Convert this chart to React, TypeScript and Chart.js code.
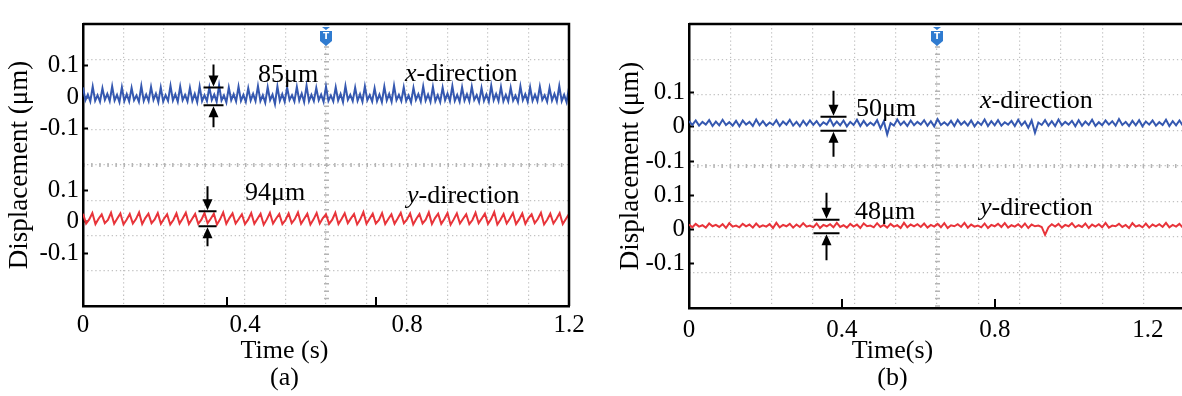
import React, { useEffect, useRef } from 'react';
import { Chart, registerables } from 'chart.js';

Chart.register(...registerables);

const SERIF = '"Liberation Serif", "Times New Roman", Times, serif';
const BLUE = '#3558b0';
const RED = '#e8343a';
const GRID = '#c2c2c2';

// ---- signal values, in nm (plotted in μm) ----
// panel (a), x-direction
const A_X_DIR_NM = [
  30, -10, 8, -14, 33, -12, 6, -15, 28, -9, 10, -13, 34, -11, 7, -16, 31, -13, 9, -14,
  29, -10, 5, -15, 35, -12, 8, -13, 32, -9, 11, -16, 30, -14, 6, -12, 36, -11, 9, -15,
  33, -10, 7, -14, 29, -12, 10, -16, 34, -13, 6, -13, 31, -9, 8, -15, 37, -11, 5, -17,
  30, -10, 9, -14, 33, -12, 7, -15, 28, -11, 10, -13, 35, -13, 6, -18, 31, -10, 8, -22,
  34, -12, 9, -15, 30, -9, 6, -14, 32, -11, 11, -16, 36, -13, 7, -13, 29, -10, 8, -15,
  33, -12, 5, -14, 31, -11, 10, -16, 35, -9, 7, -13, 30, -12, 9, -15, 34, -10, 6, -14,
  28, -13, 8, -16, 33, -11, 10, -15, 36, -10, 7, -13, 31, -12, 5, -17, 29, -9, 9, -14,
  34, -11, 8, -15, 32, -13, 6, -16, 30, -10, 11, -13, 35, -12, 7, -15, 31, -11, 9, -14,
  33, -9, 6, -16, 29, -12, 8, -15, 36, -10, 10, -13, 32, -13, 7, -14, 30, -11, 5, -16,
  34, -10, 9, -15, 31, -12, 8, -13, 33, -9, 6, -15, 29, -11, 10, -14, 35, -13, 7, -16,
  30,
];
// panel (a), y-direction
const A_Y_DIR_NM = [
  26, -5, 8, 28, -7, 10, 24, -4, 6, 29, -6, 11, 27, -8, 7, 25, -5, 9, 30, -7, 12, 26, -4, 8, 28, -6, 10, 24, -8, 6,
  27, -5, 11, 29, -7, 9, 25, -6, 7, 28, -4, 10, 26, -8, 8, 30, -6, 12, 27, -5, 9, 24, -7, 7, 28, -6, 10, 26, -9, 8,
  29, -5, 11, 25, -7, 6, 27, -4, 9, 30, -6, 10, 26, -8, 8, 28, -5, 12, 24, -6, 7, 29, -7, 9, 27, -4, 11, 25, -8, 8,
  31, -6, 10, 26, -5, 6, 28, -7, 9, 24, -6, 11, 29, -4, 8, 27, -8, 10, 25, -5, 7, 30, -7, 12, 26, -6, 9, 28, -9, 8,
  27, -5, 10, 24, -7, 6, 29, -4, 11, 26, -6, 9, 31, -8, 7, 25, -5, 10, 28, -7, 8, 27, -6, 12, 24, -4, 9, 29, -8, 7,
  26, -5, 10, 28, -7, 9,
  25,
];
// panel (b), x-direction
const B_X_DIR_NM = [
  16, 5, 18, 3, 14, 6, 19, 2, 15, 4,
  20, 5, 13, 3, 17, 1, 18, 6, 14, 2,
  21, 4, 16, 3, 12, 5, 19, 2, 15, 6,
  20, 3, 14, 1, 17, 4, 18, 5, 16, 2,
  13, 6, 22, 3, 15, 4, 18, 1, 14, 5,
  20, 2, 17, 3, 12, 4, 19, -5, 16, -23,
  10, 3, 21, 5, 15, 2, 18, 4, 14, 6,
  19, 3, 16, 1, 22, 5, 13, 4, 17, 2,
  20, 6, 15, 3, 18, 1, 14, 5, 21, 2,
  16, 4, 19, 3, 13, 6, 17, 2, 20, 4,
  15, -3, 18, -18, 12, 5, 19, 3, 16, 2,
  21, 4, 14, 6, 17, 1, 19, 3, 15, 5,
  20, 2, 13, 4, 18, 6, 16, 3, 22, 5,
  14, 2, 17, 4, 19, 1, 15, 6, 18, 3,
  13, 5, 20, 2, 16, 4, 18, 3, 15,
];
// panel (b), y-direction
const B_Y_DIR_NM = [
  14, 6, 16, 8, 12, 5, 17, 9, 13, 7,
  15, 4, 18, 8, 11, 6, 16, 9, 14, 5,
  17, 7, 12, 8, 15, 4, 19, 6, 13, 9,
  16, 5, 14, 7, 18, 8, 11, 6, 17, 4,
  13, 9, 15, 6, 19, 7, 12, 5, 16, 8,
  14, 4, 17, 9, 11, 6, 18, 7, 13, 5,
  16, 8, 12, 4, 19, 6, 14, 9, 15, 7,
  17, 5, 13, 8, 16, 6, 18, 4, 12, 9,
  15, 7, 19, 5, 14, 8, 11, 6, 17, 4,
  13, 9, 16, 7, 18, 5, 12, 8, 15, 6,
  17, 4, 14, 9, 11, 7, -16, 6, 15, 8,
  16, 5, 13, 9, 18, 6, 12, 7, 17, 4,
  14, 8, 15, 6, 19, 5, 11, 9, 16, 7,
  13, 4, 18, 8, 12, 6, 17, 5, 14, 9,
  15, 7, 19, 6, 13, 8, 16, 5, 14,
];

const A_DURATION_S = 1.2;
const B_DURATION_S = 1.3;

const TIME_TICKS = [0, 0.4, 0.8, 1.2];
const TIME_TICK_LABELS = ['0', '0.4', '0.8', '1.2'];
const DISP_TICKS = [0.1, 0, -0.1];
const DISP_TICK_LABELS = ['0.1', '0', '-0.1'];

const Y_TITLE = 'Displacement (μm)';
const A_CAPTION = ['Time (s)', '(a)'];
const B_CAPTION = ['Time(s)', '(b)'];

const A_INNER_TICKS = [0.356, 0.723];
const B_INNER_TICKS = [0.4, 0.8];

const A_NOTES = [
  { t: 0.432, ch: 'upper', v: 0.068, italic: '', text: '85μm' },
  { t: 0.795, ch: 'upper', v: 0.072, italic: 'x', text: '-direction' },
  { t: 0.4, ch: 'lower', v: 0.09, italic: '', text: '94μm' },
  { t: 0.8, ch: 'lower', v: 0.082, italic: 'y', text: '-direction' },
];
const B_NOTES = [
  { t: 0.437, ch: 'upper', v: 0.051, italic: '', text: '50μm' },
  { t: 0.761, ch: 'upper', v: 0.073, italic: 'x', text: '-direction' },
  { t: 0.434, ch: 'lower', v: 0.05, italic: '', text: '48μm' },
  { t: 0.761, ch: 'lower', v: 0.061, italic: 'y', text: '-direction' },
];
const A_BRACKETS = [
  { t: 0.321, ch: 'upper', top: 0.03, bottom: -0.026 },
  { t: 0.306, ch: 'lower', top: 0.034, bottom: -0.0136 },
];
const B_BRACKETS = [
  { t: 0.376, ch: 'upper', top: 0.029, bottom: -0.012 },
  { t: 0.358, ch: 'lower', top: 0.028, bottom: -0.011 },
];

const PANELS = [
  {
    key: 'a', left: 0, width: 652,
    pad: { top: 9, right: 83, bottom: 0, left: 0 },
    yAxisWidth: 83, yTitlePad: 4, xAxisHeight: 42, xTickPad: 4,
    xMax: 1.2, yMin: -0.266, yMax: 0.626, upper: 0.395,
    xVals: A_X_DIR_NM, yVals: A_Y_DIR_NM, duration: A_DURATION_S,
    caption: A_CAPTION, innerTicks: A_INNER_TICKS, notes: A_NOTES, brackets: A_BRACKETS,
    arrowTop: [23, 25], arrowBottom: [22, 20], half: [10, 9],
  },
  {
    key: 'b', left: 600, width: 624,
    pad: { top: 8, right: 39, bottom: 0, left: 0 },
    yAxisWidth: 89, yTitlePad: 15, xAxisHeight: 40, xTickPad: 7,
    xMax: 1.297, yMin: -0.229, yMax: 0.598, upper: 0.299,
    xVals: B_X_DIR_NM, yVals: B_Y_DIR_NM, duration: B_DURATION_S,
    caption: B_CAPTION, innerTicks: B_INNER_TICKS, notes: B_NOTES, brackets: B_BRACKETS,
    arrowTop: [26, 27], arrowBottom: [26, 27], half: [13, 13],
  },
];

const decor = {
  id: 'decor',
  afterDatasetsDraw(chart: any, _a: any, o: any) {
    const { ctx, chartArea: ca, scales } = chart;
    const xs = scales.x;
    const ys = scales.y;
    const yPix = (ch: string, v: number) => ys.getPixelForValue((ch === 'upper' ? o.upper : 0) + v);
    ctx.save();
    // frame (top/right)
    ctx.strokeStyle = '#000';
    ctx.lineWidth = 2.5;
    ctx.beginPath();
    ctx.moveTo(ca.left, ca.top);
    ctx.lineTo(ca.right, ca.top);
    ctx.lineTo(ca.right, ca.bottom);
    ctx.stroke();
    // inner time tick marks
    ctx.lineWidth = 2;
    for (const t of o.innerTicks) {
      const px = Math.round(xs.getPixelForValue(t));
      ctx.beginPath();
      ctx.moveTo(px, ca.bottom);
      ctx.lineTo(px, ca.bottom - 9);
      ctx.stroke();
    }
    // trigger marker
    const tx = scales.xCenter.getPixelForValue(6);
    const ty = ca.top + 3;
    ctx.fillStyle = '#2f7bd0';
    ctx.beginPath();
    ctx.moveTo(tx - 4, ty); ctx.lineTo(tx + 4, ty); ctx.lineTo(tx, ty + 3); ctx.closePath();
    ctx.fill();
    ctx.beginPath();
    ctx.moveTo(tx - 6, ty + 4); ctx.lineTo(tx + 6, ty + 4); ctx.lineTo(tx + 6, ty + 14);
    ctx.lineTo(tx, ty + 19); ctx.lineTo(tx - 6, ty + 14); ctx.closePath();
    ctx.fill();
    ctx.fillStyle = '#fff';
    ctx.font = 'bold 9px "DejaVu Sans", sans-serif';
    ctx.textAlign = 'center';
    ctx.textBaseline = 'middle';
    ctx.fillText('T', tx, ty + 10);
    // brackets with arrows
    ctx.strokeStyle = '#000';
    ctx.fillStyle = '#000';
    ctx.lineWidth = 2;
    o.brackets.forEach((b: any, i: number) => {
      const px = Math.round(xs.getPixelForValue(b.t)) + 0.5;
      const yt = yPix(b.ch, b.top);
      const yb = yPix(b.ch, b.bottom);
      const h = o.half[i];
      ctx.beginPath();
      ctx.moveTo(px - h, yt); ctx.lineTo(px + h, yt);
      ctx.moveTo(px - h, yb); ctx.lineTo(px + h, yb);
      ctx.moveTo(px, yt - o.arrowTop[i]); ctx.lineTo(px, yt - 8);
      ctx.moveTo(px, yb + o.arrowBottom[i]); ctx.lineTo(px, yb + 8);
      ctx.stroke();
      ctx.beginPath();
      ctx.moveTo(px, yt - 1); ctx.lineTo(px - 5, yt - 12); ctx.lineTo(px + 5, yt - 12); ctx.closePath();
      ctx.moveTo(px, yb + 1); ctx.lineTo(px - 5, yb + 12); ctx.lineTo(px + 5, yb + 12); ctx.closePath();
      ctx.fill();
    });
    // notes
    ctx.textAlign = 'left';
    ctx.textBaseline = 'middle';
    for (const n of o.notes) {
      let px = xs.getPixelForValue(n.t);
      const py = yPix(n.ch, n.v);
      if (n.italic) {
        ctx.font = `italic 26px ${SERIF}`;
        ctx.fillText(n.italic, px, py);
        px += ctx.measureText(n.italic).width;
      }
      ctx.font = `26px ${SERIF}`;
      ctx.fillText(n.text, px, py);
    }
    ctx.restore();
  },
};

function buildConfig(p: any): any {
  const series = (vals: number[], off: number) =>
    vals.map((v, i) => ({ x: (i * p.duration) / (vals.length - 1), y: off + v / 1000 }));
  const hiddenGrid = (pos: string, max: number, extra: any) => ({
    type: 'linear', position: pos, min: 0, max,
    afterFit: (s: any) => { if (pos === 'bottom') s.height = 0; else s.width = 0; },
    ticks: { display: false, stepSize: 1 },
    ...extra,
  });
  return {
    type: 'line',
    data: {
      datasets: [
        { label: 'x-direction', data: series(p.xVals, p.upper), borderColor: BLUE, borderWidth: 2,
          pointRadius: 0, tension: 0, xAxisID: 'x', yAxisID: 'y' },
        { label: 'y-direction', data: series(p.yVals, 0), borderColor: RED, borderWidth: 2,
          pointRadius: 0, tension: 0, xAxisID: 'x', yAxisID: 'y' },
      ],
    },
    options: {
      responsive: false,
      animation: false,
      devicePixelRatio: 1,
      events: [],
      layout: { padding: p.pad },
      plugins: {
        legend: { display: false },
        tooltip: { enabled: false },
        title: {
          display: true, position: 'bottom', text: p.caption, color: '#000',
          font: { family: SERIF, size: 26, weight: 'normal', lineHeight: 27 / 26 },
          padding: { top: -10, bottom: 4 },
        },
        decor: {
          upper: p.upper, innerTicks: p.innerTicks, notes: p.notes, brackets: p.brackets,
          arrowTop: p.arrowTop, arrowBottom: p.arrowBottom, half: p.half,
        },
      },
      scales: {
        xGrid: hiddenGrid('bottom', 12, {
          grid: { color: GRID, lineWidth: 1.2, drawTicks: false },
          border: { display: false, dash: [1.3, 2.8] },
        }),
        yGrid: hiddenGrid('left', 8, {
          grid: { color: GRID, lineWidth: 1.2, drawTicks: false },
          border: { display: false, dash: [1.3, 2.8] },
        }),
        xCenter: hiddenGrid('bottom', 12, {
          afterBuildTicks: (s: any) => { s.ticks = [{ value: 6 }]; },
          grid: { color: '#b4b4b4', lineWidth: 5, drawTicks: false },
          border: { display: false, dash: [1.5, 5.9] },
        }),
        yCenter: hiddenGrid('left', 8, {
          afterBuildTicks: (s: any) => { s.ticks = [{ value: 4 }]; },
          grid: { color: '#b4b4b4', lineWidth: 4, drawTicks: false },
          border: { display: false, dash: [1.5, 6.6] },
        }),
        x: {
          type: 'linear', position: 'bottom', min: 0, max: p.xMax,
          afterBuildTicks: (s: any) => { s.ticks = TIME_TICKS.map((v) => ({ value: v })); },
          afterFit: (s: any) => { s.height = p.xAxisHeight; },
          ticks: {
            callback: (_v: any, i: number) => TIME_TICK_LABELS[i],
            padding: p.xTickPad, color: '#000', maxRotation: 0, autoSkip: false,
            font: { family: SERIF, size: 25 },
          },
          grid: { drawOnChartArea: false, drawTicks: false },
          border: { display: true, color: '#000', width: 2.5 },
        },
        y: {
          type: 'linear', position: 'left', min: p.yMin, max: p.yMax,
          afterBuildTicks: (s: any) => {
            s.ticks = [
              ...DISP_TICKS.map((v) => ({ value: p.upper + v })),
              ...DISP_TICKS.map((v) => ({ value: v })),
            ];
          },
          afterFit: (s: any) => { s.width = p.yAxisWidth; },
          ticks: {
            callback: (_v: any, i: number) => DISP_TICK_LABELS[i % DISP_TICK_LABELS.length],
            padding: 9, color: '#000', autoSkip: false,
            font: { family: SERIF, size: 25 },
          },
          grid: { drawOnChartArea: false, drawTicks: true, tickLength: -5, tickWidth: 2, tickColor: '#000' },
          border: { display: true, color: '#000', width: 2.5 },
          title: {
            display: true, text: Y_TITLE, color: '#000',
            font: { family: SERIF, size: 27 },
            padding: { top: p.yTitlePad, bottom: 0 },
          },
        },
      },
    },
    plugins: [decor],
  };
}

function Panel({ p }: { p: any }) {
  const ref = useRef<HTMLCanvasElement>(null);
  useEffect(() => {
    const chart = new Chart(ref.current as HTMLCanvasElement, buildConfig(p));
    return () => chart.destroy();
  }, [p]);
  return (
    <canvas
      ref={ref}
      width={p.width}
      height={396}
      style={{ position: 'absolute', left: p.left, top: 0, display: 'block' }}
    />
  );
}

export default function App() {
  return (
    <div
      style={{
        position: 'absolute', left: 0, top: 0, width: 1182, height: 396,
        overflow: 'hidden', background: '#fff',
      }}
    >
      {PANELS.map((p) => (
        <Panel key={p.key} p={p} />
      ))}
    </div>
  );
}
